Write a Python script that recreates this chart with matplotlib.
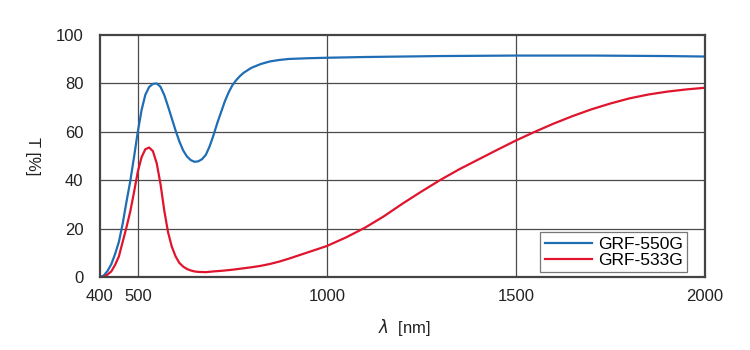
import matplotlib.pyplot as plt

plt.rcParams['font.family'] = ['Liberation Sans', 'DejaVu Sans']

# transmission spectra, wavelength in nm / transmittance in %
wl_550 = [400, 410, 420, 430, 440, 450, 460, 470, 480, 490, 500, 510, 520, 530,
          540, 550, 560, 570, 580, 590, 600, 610, 620, 630, 640, 650, 660, 670,
          680, 690, 700, 710, 720, 730, 740, 750, 760, 770, 780, 800, 825, 850,
          875, 900, 950, 1000, 1100, 1200, 1300, 1400, 1500, 1600, 1700, 1800,
          1900, 2000]
t_550 = [0, 0.6, 2.5, 5.3, 9.5, 14.5, 22, 31, 39.5, 49.5, 60, 69, 75.3, 78.5,
         79.8, 80, 78.6, 75.2, 70.5, 65.5, 60.5, 56, 52.3, 49.8, 48.3, 47.6, 47.8, 48.7,
         50.5, 54, 58.5, 63.5, 68, 72.5, 76.2, 79.2, 81.3, 83, 84.4, 86.4, 88, 89.1,
         89.7, 90.1, 90.4, 90.6, 90.9, 91.1, 91.3, 91.4, 91.5, 91.5, 91.5, 91.4,
         91.3, 91.1]

wl_533 = [400, 410, 420, 430, 440, 450, 460, 470, 480, 490, 500, 510, 520, 530,
          540, 550, 560, 570, 580, 590, 600, 610, 620, 630, 640, 650, 660, 680,
          700, 725, 750, 775, 800, 825, 850, 875, 900, 925, 950, 975, 1000, 1050,
          1100, 1150, 1200, 1250, 1300, 1350, 1400, 1450, 1500, 1550, 1600, 1650,
          1700, 1750, 1800, 1850, 1900, 1950, 2000]
t_533 = [0, 0, 1, 2.3, 5, 8.5, 14.5, 20.5, 27, 35, 43.5, 49.5, 52.8, 53.5,
         52, 47, 38.5, 27.5, 18.5, 12.5, 8.5, 5.8, 4.3, 3.3, 2.7, 2.3, 2.1, 2.0,
         2.3, 2.6, 3.0, 3.5, 4.0, 4.6, 5.4, 6.4, 7.6, 8.9, 10.2, 11.5, 12.8, 16.3,
         20.3, 25, 30.3, 35.3, 40.1, 44.5, 48.5, 52.5, 56.4, 60, 63.4, 66.5,
         69.3, 71.7, 73.8, 75.4, 76.6, 77.5, 78.2]

x_ticks = [400, 500, 1000, 1500, 2000]
y_ticks = [0, 20, 40, 60, 80, 100]

fig = plt.figure(figsize=(7.5, 3.5), dpi=100)
ax = fig.add_axes([0.1333, 0.2086, 0.8067, 0.6914])

ax.plot(wl_550, t_550, color='#1f6db4', lw=1.6, label='GRF-550G')
ax.plot(wl_533, t_533, color='#e0142d', lw=1.6, label='GRF-533G')

ax.set_xlim(400, 2000)
ax.set_ylim(0, 100)
ax.set_xticks(x_ticks)
ax.set_yticks(y_ticks)
ax.tick_params(length=0, labelsize=12, colors='#222222')
ax.tick_params(axis='x', pad=9)
ax.tick_params(axis='y', pad=12)

for v in [500, 1000, 1500]:
    ax.axvline(v, color='#4a4a4a', lw=0.9, zorder=0)
for v in [20, 40, 60, 80]:
    ax.axhline(v, color='#4a4a4a', lw=0.9, zorder=0)

for s in ax.spines.values():
    s.set_color('#444444')
    s.set_linewidth(1.6)

ax.set_xlabel(r'$\lambda$  [nm]', fontsize=12, color='#222222', va='center')
ax.xaxis.set_label_coords(0.504, -0.207)
ax.set_ylabel('T [%]', fontsize=12, color='#222222', rotation=270,
              va='center', ha='center')
ax.yaxis.set_label_coords(-0.112, 0.5)

leg = ax.legend(loc='lower right', fontsize=12.5, frameon=True, fancybox=False,
                edgecolor='#555555', handlelength=2.75, handletextpad=0.3,
                borderpad=0.25, labelspacing=0.05, borderaxespad=0,
                bbox_to_anchor=(0.970, 0.0207))
leg.get_frame().set_linewidth(0.9)

fig.savefig('out.png', dpi=100, facecolor='white')
